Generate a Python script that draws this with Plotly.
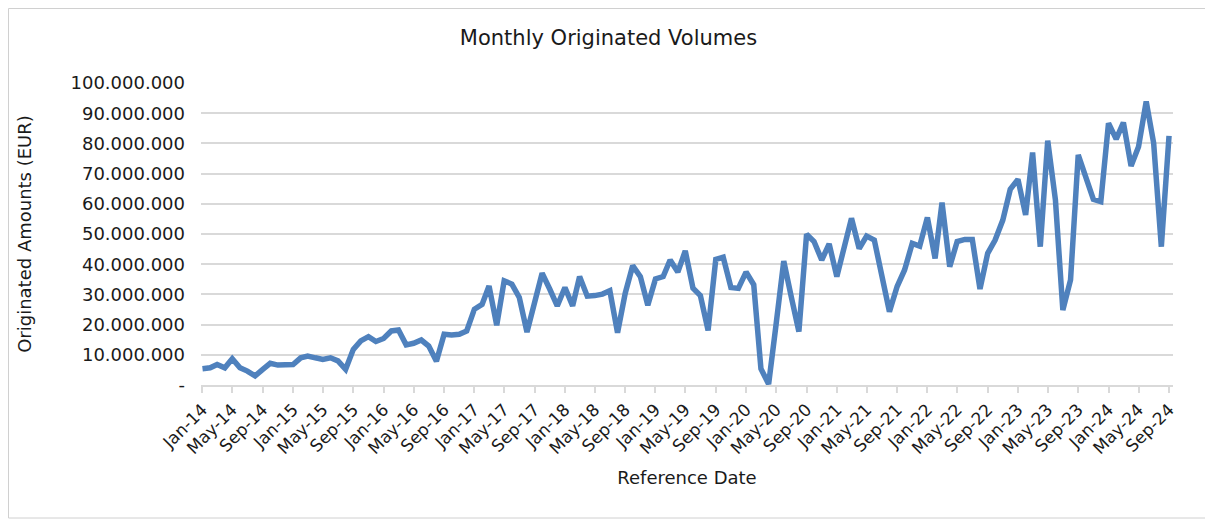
import pandas as pd
import plotly.graph_objects as go

# ---- data ----
start_month = "2014-01-01"
n_months = 129
volumes_m = [
    5.4, 5.7, 6.8, 5.7, 8.7, 5.7, 4.6, 3.0, 5.2, 7.2, 6.6, 6.5, 6.8, 9.0, 9.6, 9.0,
    8.5, 9.0, 8.0, 5.2, 11.8, 14.6, 16.0, 14.4, 15.4, 17.9,
    18.2, 13.3, 13.8, 14.9, 12.9, 7.9, 16.8, 16.6, 16.8, 17.9, 25.1, 26.7, 32.8,
    19.8, 34.5, 33.4, 29.0, 17.5, 26.7, 37.0, 31.7, 26.2, 32.3, 26.2, 35.9,
    29.4, 29.6, 30.1, 31.2, 17.3, 30.4, 39.5, 35.9, 26.4, 35.1, 35.9, 41.4, 37.4,
    44.4, 32.1, 29.6, 18.1, 41.6, 42.3, 32.3, 32.0, 37.4, 33.2, 5.4, 0.3, 20.0, 41.0,
    29.3, 17.7, 49.9, 47.5, 41.4, 46.7, 35.9, 45.2, 55.2, 45.2, 49.3, 48.0, 35.9,
    24.3, 32.6, 38.1, 46.9, 46.0, 55.5, 41.9, 60.4, 39.2, 47.5, 48.2, 48.2, 31.8,
    43.6, 48.0, 54.6, 64.8, 68.1, 56.3, 77.0, 45.8, 80.9, 61.3, 24.8, 34.8, 76.2,
    69.6, 61.5, 60.7, 86.7, 81.4, 86.9, 72.5, 78.9, 93.9, 80.1, 45.8, 82.5,
]
y_tick_values = [0, 10_000_000, 20_000_000, 30_000_000, 40_000_000, 50_000_000,
                 60_000_000, 70_000_000, 80_000_000, 90_000_000, 100_000_000]
y_tick_labels = ["-"] + [f"{v:,}".replace(",", ".") for v in y_tick_values[1:]]

dates = pd.date_range(start_month, periods=n_months, freq="MS")
values = [v * 1_000_000 for v in volumes_m]

# ---- figure ----
# page has an 8px body margin, so the figure is 8px smaller and offset
OFF = 8
W, H = 1213 - OFF, 521 - OFF
ml, mr, mt, mb = 201 - OFF, 40, 83 - OFF, 136
font_family = "DejaVu Sans"
text_color = "#1a1a1a"
grid_color = "#d9d9d9"

fig = go.Figure()
fig.add_trace(go.Scatter(
    x=dates, y=values, mode="lines",
    line=dict(color="#4f81bd", width=5.5),
    hoverinfo="x+y", showlegend=False,
))

pw = W - ml - mr
ph = H - mt - mb
fig.add_shape(
    type="rect", xref="paper", yref="paper",
    x0=(0.5 - ml) / pw, x1=(W - 3 - ml) / pw,
    y0=-(H - 3 - mt - ph) / ph, y1=1 + (mt - 0.5) / ph,
    line=dict(color="#d0d0d0", width=1), layer="below",
)

fig.update_layout(
    width=W, height=H,
    margin=dict(l=ml, r=mr, t=mt, b=mb),
    paper_bgcolor="white", plot_bgcolor="white",
    font=dict(family=font_family, color=text_color),
    title=dict(text="Monthly Originated Volumes", x=(608.5 - OFF) / W,
               y=1 - (38 - OFF) / H,
               xanchor="center", yanchor="middle",
               font=dict(size=21, color=text_color)),
    xaxis=dict(
        type="date",
        range=["2013-12-26", "2024-09-17"],
        tick0=start_month, dtick="M4", tickformat="%b-%y",
        tickangle=-45, tickfont=dict(size=17),
        showgrid=False, zeroline=False,
        showline=True, linecolor=grid_color, linewidth=2,
        ticks="outside", ticklen=6, tickcolor=grid_color, tickwidth=2,
        title=dict(text="Reference Date", font=dict(size=18), standoff=14),
    ),
    yaxis=dict(
        range=[0, 100_000_000],
        tickvals=y_tick_values, ticktext=y_tick_labels,
        tickfont=dict(size=18),
        showgrid=True, gridcolor=grid_color, gridwidth=2,
        zeroline=False, showline=False,
        ticklabelstandoff=15,
        title=dict(text="Originated Amounts (EUR)", font=dict(size=18), standoff=34),
    ),
)

fig.write_html("out.html")
